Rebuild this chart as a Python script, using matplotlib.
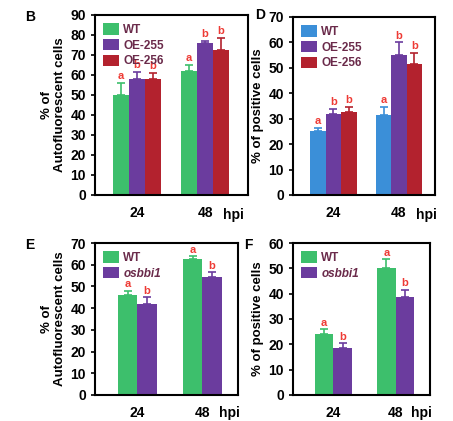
import matplotlib.pyplot as plt
import numpy as np

groups = ['24', '48']
b_names = ['WT', 'OE-255', 'OE-256']
b_vals = [[50, 58, 58], [62, 76, 72.5]]
b_err = [[6, 3.5, 3], [3, 1, 6]]
b_let = [['a', 'b', 'b'], ['a', 'b', 'b']]

d_names = ['WT', 'OE-255', 'OE-256']
d_vals = [[25, 32, 32.5], [31.5, 55, 51.5]]
d_err = [[1.5, 2, 2], [3, 5, 4.5]]
d_let = [['a', 'b', 'b'], ['a', 'b', 'b']]

e_names = ['WT', 'osbbi1']
e_vals = [[46, 42], [62.5, 54.5]]
e_err = [[2, 3], [1.5, 2]]
e_let = [['a', 'b'], ['a', 'b']]

f_names = ['WT', 'osbbi1']
f_vals = [[24, 18.5], [50, 38.5]]
f_err = [[2, 2], [3.5, 3]]
f_let = [['a', 'b'], ['a', 'b']]

GREEN, PURPLE, RED, BLUE = '#3dbf6c', '#6b3c9e', '#b3222e', '#3b8fd8'
LET = '#ee3b35'

plt.rcParams['font.family'] = ['Liberation Sans', 'DejaVu Sans']
plt.rcParams['font.weight'] = 'bold'

fig = plt.figure(figsize=(4.53, 4.21), dpi=100)
W, H = 453, 421


def panel(box, letter, lpos, names, vals, errs, lets, colors, ymax, step, ylabel,
          italic=False, xlim=(0.382, 2.632), w=0.235):
    l, t, r, b = box
    ax = fig.add_axes([l / W, 1 - b / H, (r - l) / W, (b - t) / H])
    n = len(names)
    for i in range(n):
        xs = np.arange(2) + 1 + (i - (n - 1) / 2) * w
        v = [vals[g][i] for g in range(2)]
        e = [errs[g][i] for g in range(2)]
        ax.bar(xs, v, w, color=colors[i], label=names[i])
        ax.errorbar(xs, v, yerr=[[0, 0], e], fmt='none', ecolor=colors[i],
                    capsize=3, elinewidth=1.2, capthick=1.2)
        for g in range(2):
            ax.text(xs[g], v[g] + e[g] + ymax * 0.01, lets[g][i], color=LET,
                    ha='center', va='bottom', fontsize=8, fontweight='bold')
    ax.set_xlim(*xlim)
    ax.set_ylim(0, ymax)
    ax.set_yticks(np.arange(0, ymax + 1, step))
    ax.set_xticks([1, 2])
    ax.set_xticklabels(groups)
    ax.tick_params(axis='both', labelsize=10, length=3, width=1.2, direction='out')
    ax.tick_params(axis='x', length=0, pad=8)
    for s in ax.spines.values():
        s.set_linewidth(1.5)
    ax.text(2.42, -ymax * 0.075, 'hpi', transform=ax.transData, fontsize=10,
            fontweight='bold', va='top', ha='center')
    ax.set_ylabel(ylabel, fontsize=9.5, fontweight='bold', labelpad=3)
    leg = ax.legend(loc='upper left', frameon=False, fontsize=8.5, handlelength=1.3,
                    handleheight=1.1, borderaxespad=0.3, labelspacing=0.25,
                    handletextpad=0.4)
    for txt in leg.get_texts():
        txt.set_color('#6a2a4a')
        if italic and txt.get_text() != 'WT':
            txt.set_fontstyle('italic')
    fig.text(lpos[0] / W, 1 - lpos[1] / H, letter, fontsize=10, fontweight='bold',
             va='top')
    return ax


panel((95, 15, 248, 195), 'B', (25, 10), b_names, b_vals, b_err, b_let,
      [GREEN, PURPLE, RED], 90, 10, '% of\nAutofluorescent cells')
panel((293, 17, 435, 195), 'D', (255, 8), d_names, d_vals, d_err, d_let,
      [BLUE, PURPLE, RED], 70, 10, '% of positive cells', xlim=(0.382, 2.55))
panel((95, 243, 238, 395), 'E', (25, 238), e_names, e_vals, e_err, e_let,
      [GREEN, PURPLE], 70, 10, '% of\nAutofluorescent cells', italic=True,
      xlim=(0.35, 2.55), w=0.3)
panel((293, 243, 430, 395), 'F', (244, 238), f_names, f_vals, f_err, f_let,
      [GREEN, PURPLE], 60, 10, '% of positive cells', italic=True,
      xlim=(0.35, 2.55), w=0.3)

fig.savefig('out.png', dpi=100)
